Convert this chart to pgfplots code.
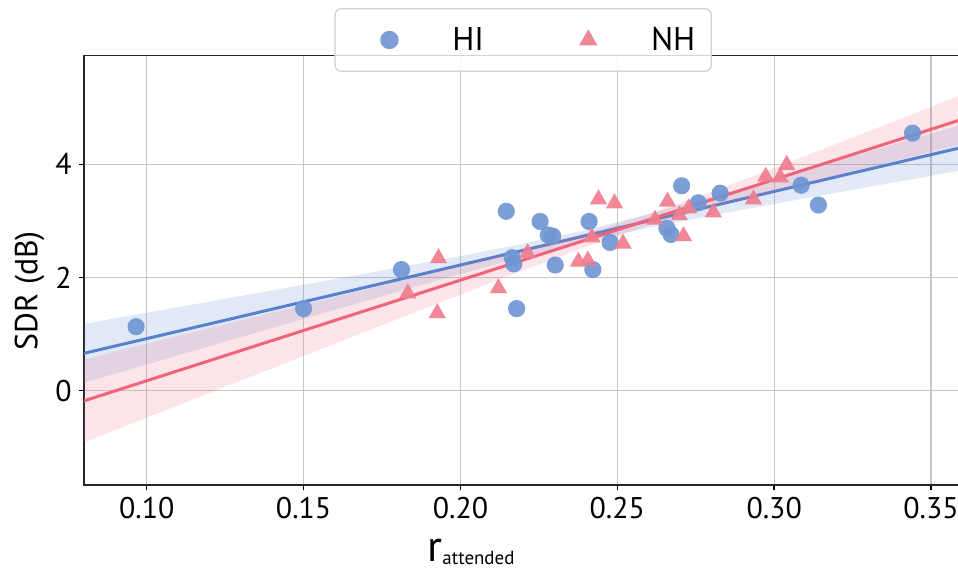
\documentclass[border=0pt]{standalone}
\usepackage{pgfplots}
\pgfplotsset{compat=1.18}
\usepackage{fontspec}
\setmainfont{PT Sans}
\definecolor{hiM}{RGB}{112,150,212}
\definecolor{hiL}{RGB}{88,128,204}
\definecolor{nhM}{RGB}{240,125,142}
\definecolor{nhL}{RGB}{240,100,122}
\pgfplotsset{mylegimg/.style={legend image code/.code={\path[draw=none,fill=none] (-19.2bp,0bp) -- (31.4bp,0bp); \draw[only marks, mark size=4.6bp] plot coordinates {(0bp,0bp)};}}}
\pgfplotsset{mylegimgt/.style={legend image code/.code={\path[draw=none,fill=none] (-19.2bp,0bp) -- (31.4bp,0bp); \draw[only marks, mark size=5.3bp] plot coordinates {(0bp,0bp)};}}}
\begin{document}
\begin{tikzpicture}
\begin{axis}[
  at={(0,0)}, anchor=south west,
  scale only axis, width=439.2bp, height=214.8bp,
  xmin=0.08, xmax=0.36, ymin=-1.67, ymax=5.92,
  xtick={0.10,0.15,0.20,0.25,0.30,0.35},
  ytick={0,2,4},
  xticklabel style={/pgf/number format/.cd, fixed, fixed zerofill, precision=2},
  /pgf/number format/assume math mode=true,
  ticklabel style={font=\fontsize{15}{17}\selectfont},
  tick align=outside, xtick pos=bottom, ytick pos=left,
  major tick length=2.6bp,
  tick style={line width=0.7bp, black},
  axis line style={line width=0.75bp, black!85},
  grid=major,
  major grid style={line width=0.6bp, black!22},
  every axis y label/.style={at={(axis description cs:-0.053,0.453)}, rotate=90, anchor=base, font=\fontsize{16}{18}\selectfont},
  ylabel={SDR (dB)},
  every axis x label/.style={at={(axis description cs:0.4406,0)}, anchor=base, yshift=-38bp, inner sep=0pt},
  xlabel={{\fontsize{22}{24}\selectfont r}\raisebox{-1.5bp}{\fontsize{9.5}{11}\selectfont attended}},
  legend columns=2,
  legend style={at={(0.5,1)}, anchor=center, yshift=7.8bp,
    draw=black!18, line width=0.6bp, rounded corners=3bp,
    fill=white, fill opacity=0.8, text opacity=1, draw opacity=1,
    inner xsep=8bp, inner ysep=5bp,
    font=\fontsize{16.5}{18}\selectfont,
    nodes={inner xsep=0pt, inner ysep=4bp, text depth=0.15em},
    /tikz/every even column/.append style={column sep=33bp}},
]
% HI scatter
\addplot[only marks, mark=*, mark size=4.3bp, color=hiM, opacity=0.92,
  mark options={draw opacity=0}, mylegimg]
  table {
0.0966 1.13
0.1500 1.45
0.1812 2.14
0.2146 3.17
0.2165 2.35
0.2170 2.24
0.2179 1.45
0.2254 2.99
0.2280 2.75
0.2294 2.73
0.2302 2.22
0.2410 2.99
0.2422 2.14
0.2477 2.62
0.2658 2.87
0.2671 2.76
0.2705 3.62
0.2758 3.32
0.2828 3.49
0.3086 3.63
0.3141 3.28
0.3441 4.55
};
\addlegendentry{HI}
% HI band
\addplot[draw=none, fill=hiL, fill opacity=0.18, forget plot] coordinates {
(0.08,1.180) (0.10,1.377) (0.12,1.574) (0.14,1.772) (0.16,1.971) (0.18,2.173) (0.20,2.379) (0.22,2.596)
(0.24,2.840) (0.26,3.122) (0.28,3.427) (0.30,3.742) (0.32,4.061) (0.34,4.382) (0.36,4.704)
(0.36,3.896) (0.34,3.698) (0.32,3.499) (0.30,3.298) (0.28,3.093) (0.26,2.878) (0.24,2.640) (0.22,2.364)
(0.20,2.061) (0.18,1.747) (0.16,1.429) (0.14,1.108) (0.12,0.786) (0.10,0.463) (0.08,0.140)
} -- cycle;
% HI line
\addplot[hiL, line width=1.5bp, forget plot] coordinates {(0.08,0.66) (0.36,4.30)};
% NH scatter
\addplot[only marks, mark=triangle*, mark size=5.0bp, color=nhM, opacity=0.92,
  mark options={draw opacity=0}, mylegimgt]
  table {
0.1832 1.72
0.1926 1.37
0.1930 2.34
0.2121 1.81
0.2214 2.43
0.2376 2.28
0.2406 2.30
0.2419 2.71
0.2440 3.38
0.2491 3.31
0.2518 2.60
0.2620 3.02
0.2660 3.34
0.2698 3.10
0.2711 2.73
0.2727 3.22
0.2806 3.15
0.2934 3.38
0.2973 3.78
0.3019 3.77
0.3040 3.99
};
\addlegendentry{NH}
% NH band
\addplot[draw=none, fill=nhL, fill opacity=0.17, forget plot] coordinates {
(0.08,0.555) (0.10,0.829) (0.12,1.103) (0.14,1.377) (0.16,1.653) (0.18,1.929) (0.20,2.207) (0.22,2.489)
(0.24,2.785) (0.26,3.120) (0.28,3.512) (0.30,3.933) (0.32,4.364) (0.34,4.797) (0.36,5.232)
(0.36,4.359) (0.34,4.083) (0.32,3.806) (0.30,3.525) (0.28,3.236) (0.26,2.918) (0.24,2.542) (0.22,2.126)
(0.20,1.698) (0.18,1.265) (0.16,0.831) (0.14,0.395) (0.12,-0.041) (0.10,-0.478) (0.08,-0.915)
} -- cycle;
% NH line
\addplot[nhL, line width=1.5bp, forget plot] coordinates {(0.08,-0.18) (0.36,4.796)};
\end{axis}
\pgfresetboundingbox
\useasboundingbox (-42bp,-43.4bp) rectangle (437bp,242.6bp);
\end{tikzpicture}
\end{document}
